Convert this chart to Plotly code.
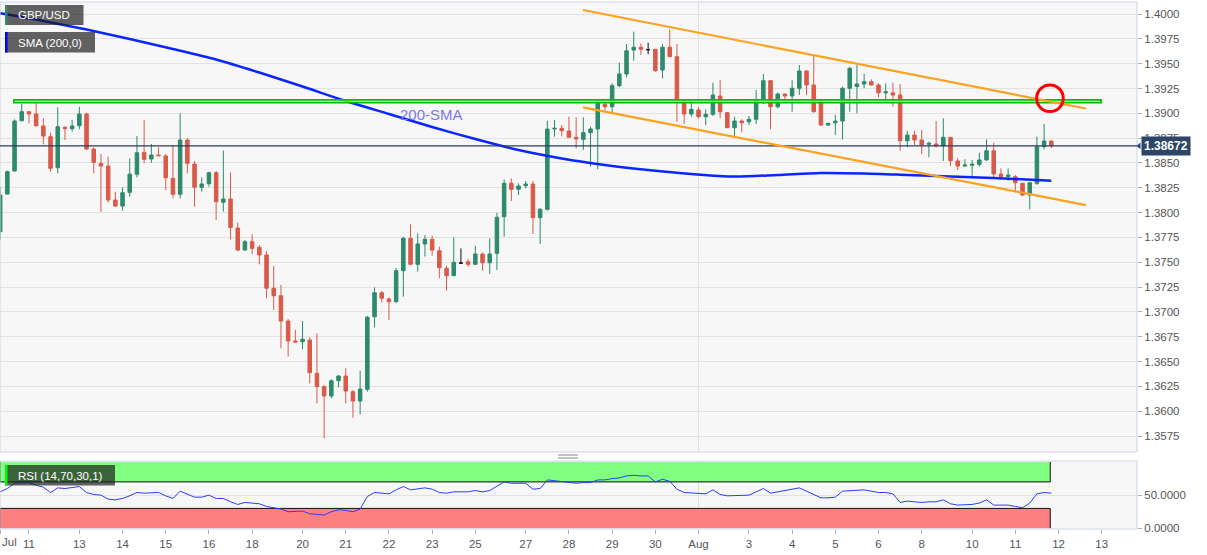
import plotly.graph_objects as go

# ---------------- data (4h candles, GBP/USD) ----------------
opens = [1.37808,1.38187,1.38419,1.38925,1.39016,1.38993,1.38872,1.38764,1.38452,1.38859,
 1.38845,1.38875,1.38993,1.38640,1.38496,1.38469,1.38127,1.38066,1.38204,1.38387,
 1.38607,1.38540,1.38580,1.38570,1.38345,1.38184,1.38731,1.38489,1.38255,1.38291,
 1.38402,1.38104,1.38137,1.37845,1.37623,1.37707,1.37650,1.37573,1.37238,1.37163,
 1.36908,1.36707,1.36700,1.36717,1.36382,1.36247,1.36153,1.36307,1.36354,1.36196,
 1.36103,1.36220,1.36951,1.37193,1.37130,1.37103,1.37415,1.37741,1.37479,1.37684,
 1.37731,1.37616,1.37439,1.37365,1.37492,1.37505,1.37479,1.37583,1.37495,1.37590,
 1.37959,1.38295,1.38235,1.38271,1.38288,1.37949,1.38033,1.38842,1.38849,1.38822,
 1.38758,1.38738,1.38805,1.38842,1.39091,1.39066,1.39278,1.39396,1.39637,1.39665,
 1.39641,1.39645,1.39436,1.39665,1.39570,1.39134,1.38993,1.39033,1.38966,1.38990,
 1.39174,1.39006,1.38855,1.38922,1.38915,1.38940,1.39134,1.39328,1.39066,1.39194,
 1.39174,1.39252,1.39426,1.39285,1.39124,1.38882,1.38905,1.38922,1.39252,1.39270,
 1.39295,1.39318,1.39285,1.39206,1.39206,1.39184,1.38724,1.38781,1.38731,1.38688,
 1.38691,1.38671,1.38758,1.38520,1.38469,1.38476,1.38486,1.38530,1.38623,1.38389,
 1.38362,1.38362,1.38295,1.38177,1.38295,1.38664,1.38721]

highs = [1.38258,1.38422,1.38940,1.39094,1.39023,1.39101,1.38950,1.38805,1.39060,1.38872,
 1.38932,1.39066,1.39006,1.38658,1.38590,1.38563,1.38210,1.38255,1.38547,1.38771,
 1.38932,1.38691,1.38658,1.38590,1.38681,1.39000,1.38748,1.38520,1.38355,1.38412,
 1.38419,1.38625,1.38404,1.37900,1.37724,1.37781,1.37674,1.37616,1.37462,1.37271,
 1.36928,1.36818,1.36908,1.36744,1.36784,1.36264,1.36321,1.36364,1.36432,1.36213,
 1.36408,1.36959,1.37248,1.37210,1.37147,1.37442,1.37757,1.37882,1.37791,1.37774,
 1.37769,1.37656,1.37465,1.37751,1.37640,1.37530,1.37666,1.37596,1.37741,1.37999,
 1.38335,1.38345,1.38295,1.38318,1.38318,1.38046,1.38925,1.38932,1.38882,1.38966,
 1.38960,1.38960,1.38865,1.39134,1.39117,1.39302,1.39510,1.39698,1.39822,1.39705,
 1.39711,1.39648,1.39698,1.39846,1.39698,1.39144,1.39134,1.39060,1.39040,1.39308,
 1.39335,1.39013,1.38966,1.38940,1.38973,1.39235,1.39396,1.39335,1.39207,1.39199,
 1.39335,1.39486,1.39436,1.39587,1.39124,1.38902,1.38983,1.39268,1.39469,1.39486,
 1.39396,1.39342,1.39302,1.39302,1.39308,1.39295,1.38825,1.38825,1.38832,1.38714,
 1.38922,1.38950,1.38761,1.38547,1.38537,1.38530,1.38603,1.38738,1.38704,1.38446,
 1.38446,1.38379,1.38301,1.38308,1.38764,1.38892,1.38726]

lows = [1.37724,1.38182,1.38414,1.38922,1.38899,1.38865,1.38688,1.38412,1.38396,1.38731,
 1.38815,1.38839,1.38630,1.38396,1.38009,1.38100,1.38059,1.38019,1.38160,1.38355,
 1.38496,1.38502,1.38570,1.38228,1.38144,1.38144,1.38396,1.38059,1.38210,1.38261,
 1.37925,1.38011,1.37731,1.37613,1.37618,1.37580,1.37479,1.37137,1.37019,1.36633,
 1.36549,1.36692,1.36623,1.36281,1.36079,1.35727,1.36130,1.36240,1.36079,1.35934,
 1.35969,1.36196,1.36845,1.37093,1.36918,1.37090,1.37153,1.37472,1.37405,1.37556,
 1.37566,1.37338,1.37213,1.37361,1.37482,1.37455,1.37477,1.37415,1.37382,1.37422,
 1.37757,1.38117,1.38177,1.38245,1.37784,1.37684,1.38019,1.38764,1.38768,1.38756,
 1.38648,1.38630,1.38462,1.38436,1.39033,1.38993,1.39262,1.39362,1.39530,1.39587,
 1.39594,1.39419,1.39352,1.39567,1.38915,1.38892,1.38966,1.38950,1.38882,1.38973,
 1.38950,1.38852,1.38771,1.38809,1.38882,1.38892,1.39094,1.38839,1.39050,1.39117,
 1.39016,1.39184,1.39184,1.39008,1.38872,1.38872,1.38781,1.38738,1.39016,1.39000,
 1.39252,1.39280,1.39161,1.39107,1.39066,1.38623,1.38658,1.38681,1.38587,1.38557,
 1.38658,1.38520,1.38469,1.38429,1.38462,1.38366,1.38462,1.38523,1.38345,1.38335,
 1.38321,1.38204,1.38167,1.38033,1.38278,1.38637,1.38648]

closes = [1.38177,1.38412,1.38922,1.39016,1.38993,1.38875,1.38771,1.38446,1.38865,1.38845,
 1.38872,1.38993,1.38640,1.38506,1.38469,1.38127,1.38066,1.38200,1.38387,1.38603,
 1.38537,1.38580,1.38573,1.38351,1.38184,1.38731,1.38496,1.38255,1.38288,1.38402,
 1.38110,1.38137,1.37850,1.37623,1.37707,1.37640,1.37573,1.37238,1.37163,1.36908,
 1.36707,1.36697,1.36724,1.36388,1.36247,1.36153,1.36307,1.36354,1.36203,1.36103,
 1.36223,1.36946,1.37193,1.37137,1.37103,1.37415,1.37741,1.37479,1.37684,1.37731,
 1.37623,1.37445,1.37365,1.37499,1.37492,1.37479,1.37583,1.37495,1.37583,1.37953,
 1.38295,1.38235,1.38268,1.38288,1.37949,1.38033,1.38842,1.38849,1.38825,1.38758,
 1.38741,1.38805,1.38842,1.39101,1.39066,1.39278,1.39396,1.39630,1.39665,1.39645,
 1.39641,1.39429,1.39665,1.39570,1.39134,1.38993,1.39040,1.38966,1.38990,1.39184,
 1.39016,1.38855,1.38922,1.38905,1.38940,1.39134,1.39328,1.39066,1.39194,1.39174,
 1.39252,1.39426,1.39285,1.39016,1.38882,1.38899,1.38922,1.39252,1.39453,1.39295,
 1.39318,1.39285,1.39206,1.39216,1.39184,1.38724,1.38781,1.38731,1.38681,1.38698,
 1.38671,1.38758,1.38523,1.38469,1.38479,1.38486,1.38530,1.38623,1.38389,1.38362,
 1.38379,1.38301,1.38177,1.38301,1.38664,1.38721,1.38672]

rsi = [55,60,68,69,69,65,62,54,61,60,61,63,54,51,50,44,43,45,49,54,53,54,54,49,45,56,52,47,47,50,
 45,45,40,36,39,38,37,33,31,29,25,25,26,22,21,20,25,28,27,25,29,48,54,53,52,58,
 63,58,60,61,59,54,53,55,55,55,57,55,57,64,70,68,68,68,59,60,73,72,71,69,68,
 69,69,73,73,75,76,79,80,79,79,70,74,71,59,54,53,52,52,58,51,49,49,49,50,55,
 60,53,55,56,58,61,
 56,51,46,46,47,56,57,57,58,56,54,54,52,39,41,40,39,40,40,43,37,35,35,36,38,
 43,35,35,35,33,31,38,52,54,53]

sma_idx = [0,6,12,18,24,30,36,42,48,54,60,66,72,78,84,90,96,102,108,114,120,126,132,138,144,146]
sma_val = [1.40007,1.39930,1.39844,1.39748,1.39648,1.39542,1.39411,1.39270,1.39124,1.38993,
 1.38862,1.38741,1.38630,1.38545,1.38479,1.38429,1.38389,1.38363,1.38379,1.38399,
 1.38394,1.38379,1.38363,1.38348,1.38328,1.38321]

tick_idx = [0,4,11,17,23,29,35,42,48,54,60,66,73,79,85,91,97,104,110,116,122,128,135,141,147,153]
tick_text = ["","11","13","14","15","16","18","20","21","22","23","25","27","28","29","30",
             "Aug","3","4","5","6","8","10","11","12","13"]
first_label = "Jul"
aug_idx = 97

last_price = 1.38672
zone_low, zone_high = 1.39107, 1.39135
zone_x = [1.92, 152.9]
upper_x, upper_y = [80.95, 150.8], [1.40040, 1.39048]
lower_x, lower_y = [80.95, 150.8], [1.39060, 1.38076]
circle_x, circle_y = [143.96, 147.66], [1.39017, 1.39285]
rsi_upper, rsi_lower = 70, 30
rsi_end = 145.85

price_ticks = [1.3575 + 0.0025 * i for i in range(18)]

# ---------------- figure ----------------
n = len(opens)
xs = list(range(n))
FONT = "Liberation Sans, Arial, sans-serif"
GREEN = "#2e8a6c"
RED = "#d95a49"

doji = [i for i in xs if opens[i] == closes[i]]
normal = [i for i in xs if opens[i] != closes[i]]

fig = go.Figure()
fig.add_trace(go.Candlestick(
    x=[xs[i] for i in normal], open=[opens[i] for i in normal], high=[highs[i] for i in normal],
    low=[lows[i] for i in normal], close=[closes[i] for i in normal],
    increasing=dict(line=dict(color=GREEN, width=1), fillcolor=GREEN),
    decreasing=dict(line=dict(color=RED, width=1), fillcolor=RED),
    xaxis="x", yaxis="y", showlegend=False, hoverinfo="skip"))
fig.add_trace(go.Candlestick(
    x=[xs[i] for i in doji], open=[opens[i] for i in doji], high=[highs[i] for i in doji],
    low=[lows[i] for i in doji], close=[closes[i] for i in doji],
    increasing=dict(line=dict(color="#111111", width=1), fillcolor="#111111"),
    decreasing=dict(line=dict(color="#111111", width=1), fillcolor="#111111"),
    xaxis="x", yaxis="y", showlegend=False, hoverinfo="skip"))
fig.add_trace(go.Scatter(x=sma_idx, y=sma_val, mode="lines",
    line=dict(color="#0b25ff", width=2.5, shape="spline", smoothing=0.8),
    xaxis="x", yaxis="y", showlegend=False, hoverinfo="skip"))
fig.add_trace(go.Scatter(x=xs, y=rsi, mode="lines",
    line=dict(color="#2a3cff", width=1),
    xaxis="x", yaxis="y2", showlegend=False, hoverinfo="skip"))

# pixel helpers for paper positioning (plot area: x 0..1137, y 2..529)
def px(x):
    return x / 1137.0
def py(y):
    return (529.0 - y) / 527.0

shapes = []
# RSI bands
shapes.append(dict(type="rect", xref="x", yref="y2", x0=-1, x1=rsi_end, y0=rsi_upper, y1=100,
                   fillcolor="#80ff80", line=dict(width=0), layer="between"))
shapes.append(dict(type="rect", xref="x", yref="y2", x0=-1, x1=rsi_end, y0=0, y1=rsi_lower,
                   fillcolor="#ff8080", line=dict(width=0), layer="between"))
shapes.append(dict(type="path", xref="x", yref="y2",
                   path=f"M -0.02,100 L -0.02,{rsi_upper} L {rsi_end},{rsi_upper} L {rsi_end},100",
                   line=dict(color="#111111", width=1), layer="between"))
shapes.append(dict(type="path", xref="x", yref="y2",
                   path=f"M -0.02,0 L -0.02,{rsi_lower} L {rsi_end},{rsi_lower} L {rsi_end},0",
                   line=dict(color="#111111", width=1), layer="between"))
# August vertical separators
shapes.append(dict(type="line", xref="x", yref="y domain", x0=aug_idx, x1=aug_idx, y0=0, y1=1,
                   line=dict(color="#e0e0e0", width=1), layer="below"))
shapes.append(dict(type="line", xref="x", yref="y2 domain", x0=aug_idx, x1=aug_idx, y0=0, y1=1,
                   line=dict(color="#e0e0e0", width=1), layer="below"))
# pane borders
shapes.append(dict(type="rect", xref="paper", yref="y domain", x0=0, x1=1, y0=0, y1=1,
                   line=dict(color="#cdd5e6", width=1), layer="above"))
shapes.append(dict(type="rect", xref="paper", yref="y2 domain", x0=0, x1=1, y0=0, y1=1,
                   line=dict(color="#cdd5e6", width=1), layer="above"))
# last price line
shapes.append(dict(type="line", xref="paper", yref="y", x0=0, x1=1, y0=last_price, y1=last_price,
                   line=dict(color="#2c3d5c", width=1.2), layer="above"))
# resistance zone (double line)
shapes.append(dict(type="rect", xref="x", yref="y", x0=zone_x[0], x1=zone_x[1], y0=zone_low, y1=zone_high,
                   fillcolor="rgba(235,255,235,0.7)", line=dict(color="#00c000", width=1.8), layer="above"))
# channel lines
shapes.append(dict(type="line", xref="x", yref="y", x0=upper_x[0], x1=upper_x[1], y0=upper_y[0], y1=upper_y[1],
                   line=dict(color="#ffa01e", width=2.2), layer="above"))
shapes.append(dict(type="line", xref="x", yref="y", x0=lower_x[0], x1=lower_x[1], y0=lower_y[0], y1=lower_y[1],
                   line=dict(color="#ffa01e", width=2.2), layer="above"))
# red circle
shapes.append(dict(type="circle", xref="x", yref="y", x0=circle_x[0], x1=circle_x[1], y0=circle_y[0], y1=circle_y[1],
                   line=dict(color="#ff0000", width=3), layer="above"))
# label boxes
for (x0, x1, y0, y1, bar) in [(5, 83.5, 5, 25, "#2e8b6e"), (5, 95, 32, 52.5, "#0000ff"), (5, 115, 465, 485.5, "#00ff00")]:
    shapes.append(dict(type="rect", xref="paper", yref="paper", x0=px(x0), x1=px(x1), y0=py(y1), y1=py(y0),
                       fillcolor="rgba(25,25,25,0.68)", line=dict(width=0), layer="above"))
    shapes.append(dict(type="rect", xref="paper", yref="paper", x0=px(x0), x1=px(x0 + 2.5), y0=py(y1), y1=py(y0),
                       fillcolor=bar, line=dict(width=0), layer="above"))
# pane drag handle
for yy in (455, 458):
    shapes.append(dict(type="line", xref="paper", yref="paper", x0=px(558), x1=px(578), y0=py(yy), y1=py(yy),
                       line=dict(color="#888888", width=1)))
# price tag arrow
shapes.append(dict(type="path", xref="paper", yref="y",
                   path=f"M {px(1136.5)},{last_price} L {px(1140.5)},{last_price + 0.00035} L {px(1140.5)},{last_price - 0.00035} Z",
                   fillcolor="#2d4566", line=dict(width=0)))

annotations = [
    dict(xref="paper", yref="paper", x=px(16), y=py(15), text="GBP/USD", showarrow=False,
         xanchor="left", yanchor="middle", font=dict(family=FONT, size=11.5, color="white")),
    dict(xref="paper", yref="paper", x=px(16), y=py(42.5), text="SMA (200,0)", showarrow=False,
         xanchor="left", yanchor="middle", font=dict(family=FONT, size=11.5, color="white")),
    dict(xref="paper", yref="paper", x=px(16), y=py(475.5), text="RSI (14,70,30,1)", showarrow=False,
         xanchor="left", yanchor="middle", font=dict(family=FONT, size=11.5, color="white")),
    dict(xref="x", yref="y", x=59.9, y=1.38993, text="200-SMA", showarrow=False,
         font=dict(family=FONT, size=15, color="#7a7aee")),
    dict(xref="paper", yref="y", x=px(1140.5), y=last_price, text="<b>1.38672</b>", showarrow=False,
         xanchor="left", yanchor="middle", bgcolor="#2d4566", borderpad=2,
         font=dict(family=FONT, size=12, color="white")),
    dict(xref="paper", yref="paper", x=px(0), y=py(542), text=first_label, showarrow=False,
         xanchor="left", yanchor="middle", font=dict(family=FONT, size=11.5, color="#555555")),
]

fig.update_layout(
    width=1207, height=555,
    margin=dict(l=0, r=70, t=2, b=26, autoexpand=False),
    paper_bgcolor="white", plot_bgcolor="#f7f7f7",
    font=dict(family=FONT, size=11, color="#555555"),
    showlegend=False, hovermode=False,
    shapes=shapes, annotations=annotations,
    xaxis=dict(range=[-0.02, 157.9], anchor="y2", tickmode="array", tickvals=tick_idx, ticktext=tick_text,
               ticks="outside", ticklen=4, tickcolor="#a8b0c0", showgrid=False, zeroline=False, showline=False,
               tickfont=dict(family=FONT, size=11.5, color="#555555"), rangeslider=dict(visible=False),
               fixedrange=True),
    yaxis=dict(domain=[0.1461, 1.0], range=[1.35589, 1.40121], side="right", tickmode="array",
               tickvals=price_ticks, ticktext=[f"{v:.4f}" for v in price_ticks],
               ticks="outside", ticklen=4, tickcolor="#a8b0c0", gridcolor="#e2e2e2", gridwidth=1,
               zeroline=False, showline=False, tickfont=dict(family=FONT, size=11.5, color="#555555")),
    yaxis2=dict(domain=[0.0, 0.129], range=[-1.06, 101.5], side="right", tickmode="array",
                tickvals=[0, 50], ticktext=["0.0000", "50.0000"],
                ticks="outside", ticklen=4, tickcolor="#a8b0c0", gridcolor="#e2e2e2",
                zeroline=False, showline=False, tickfont=dict(family=FONT, size=11.5, color="#555555")),
    boxgap=0.3,
)

fig.write_html("out.html", config={"displayModeBar": False},
               post_script="document.body.style.margin='0px';")
